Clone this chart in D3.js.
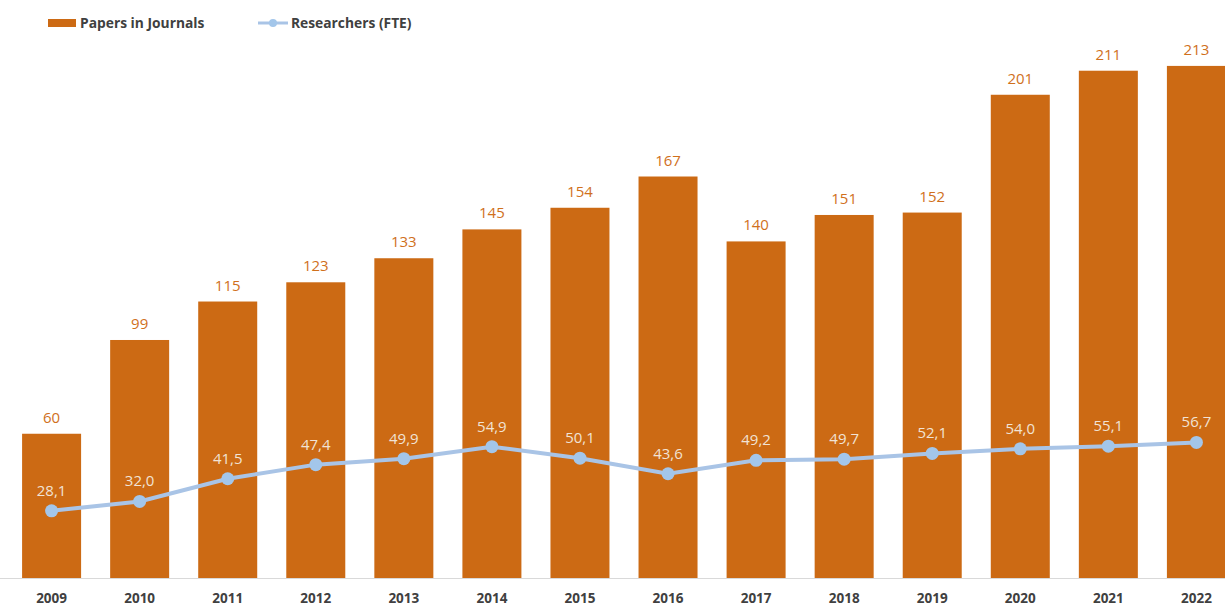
<!DOCTYPE html>
<html>
<head>
<meta charset="utf-8">
<script src="https://cdn.jsdelivr.net/npm/d3@7"></script>
<style>
  body { margin: 0; background: #fff; }
  text { font-family: "Open Sans", "Liberation Sans", sans-serif; }
</style>
</head>
<body>
<svg id="chart" width="1225" height="606"></svg>
<script>
var years = ["2009", "2010", "2011", "2012", "2013", "2014", "2015", "2016", "2017", "2018", "2019", "2020", "2021", "2022"];
var papers = [60, 99, 115, 123, 133, 145, 154, 167, 140, 151, 152, 201, 211, 213];
var researchers = [28.1, 32.0, 41.5, 47.4, 49.9, 54.9, 50.1, 43.6, 49.2, 49.7, 52.1, 54.0, 55.1, 56.7];

var svg = d3.select("#chart"),
    baseY = 578;

var xScale = d3.scaleBand().domain(years).range([8, 1240]).paddingInner(0.33).paddingOuter(0.16),
    yScale = d3.scaleLinear().domain([0, 240]).range([baseY, 1]),
    y2Scale = d3.scaleLinear().domain([0, 240]).range([baseY, 4]);

var fmt = function(v) { return v.toFixed(1).replace(".", ","); };

// bars
svg.append("g").selectAll("rect")
    .data(papers)
    .enter().append("rect")
    .attr("x", function(d, i) { return xScale(years[i]); })
    .attr("y", function(d) { return yScale(d); })
    .attr("width", xScale.bandwidth())
    .attr("height", function(d) { return baseY - yScale(d); })
    .attr("fill", "#cc6a14");

svg.append("g").selectAll("text")
    .data(papers)
    .enter().append("text")
    .attr("x", function(d, i) { return xScale(years[i]) + xScale.bandwidth() / 2; })
    .attr("y", function(d) { return yScale(d) - 11; })
    .attr("text-anchor", "middle")
    .attr("font-size", 15)
    .attr("fill", "#d0701c")
    .text(function(d) { return d; });

// x axis
var xAxis = svg.append("g")
    .attr("transform", "translate(0," + baseY + ")")
    .call(d3.axisBottom(xScale).tickSize(0).tickPadding(15));
xAxis.select(".domain").attr("stroke", "#d9d9d9").attr("d", "M0,0.5H1225");
xAxis.selectAll("text")
    .attr("font-size", 13.5)
    .attr("font-weight", "bold")
    .attr("fill", "#404040")
    .style("font-family", "\"Open Sans\", sans-serif");

// line
var cx = function(i) { return xScale(years[i]) + xScale.bandwidth() / 2; };
var line = d3.line()
    .x(function(d, i) { return cx(i); })
    .y(function(d) { return y2Scale(d); });

svg.append("path")
    .datum(researchers)
    .attr("d", line)
    .attr("fill", "none")
    .attr("stroke", "#a9c4e6")
    .attr("stroke-width", 4);

svg.append("g").selectAll("circle")
    .data(researchers)
    .enter().append("circle")
    .attr("cx", function(d, i) { return cx(i); })
    .attr("cy", function(d) { return y2Scale(d); })
    .attr("r", 6.5)
    .attr("fill", "#a3c6ea");

svg.append("g").selectAll("text")
    .data(researchers)
    .enter().append("text")
    .attr("x", function(d, i) { return cx(i); })
    .attr("y", function(d) { return y2Scale(d) - 15; })
    .attr("text-anchor", "middle")
    .attr("font-size", 15)
    .attr("fill", "#f1e3d5")
    .text(fmt);

// legend
var legend = svg.append("g").attr("font-size", 13.8).attr("font-weight", "bold").attr("fill", "#404040");
legend.append("rect").attr("x", 48).attr("y", 19).attr("width", 28).attr("height", 8).attr("fill", "#cc6a14");
legend.append("text").attr("x", 80).attr("y", 28).text("Papers in Journals");
legend.append("line").attr("x1", 258).attr("x2", 288).attr("y1", 23).attr("y2", 23)
    .attr("stroke", "#a9c4e6").attr("stroke-width", 3);
legend.append("circle").attr("cx", 273).attr("cy", 23).attr("r", 4).attr("fill", "#a3c6ea");
legend.append("text").attr("x", 291).attr("y", 28).text("Researchers (FTE)");
</script>
</body>
</html>
